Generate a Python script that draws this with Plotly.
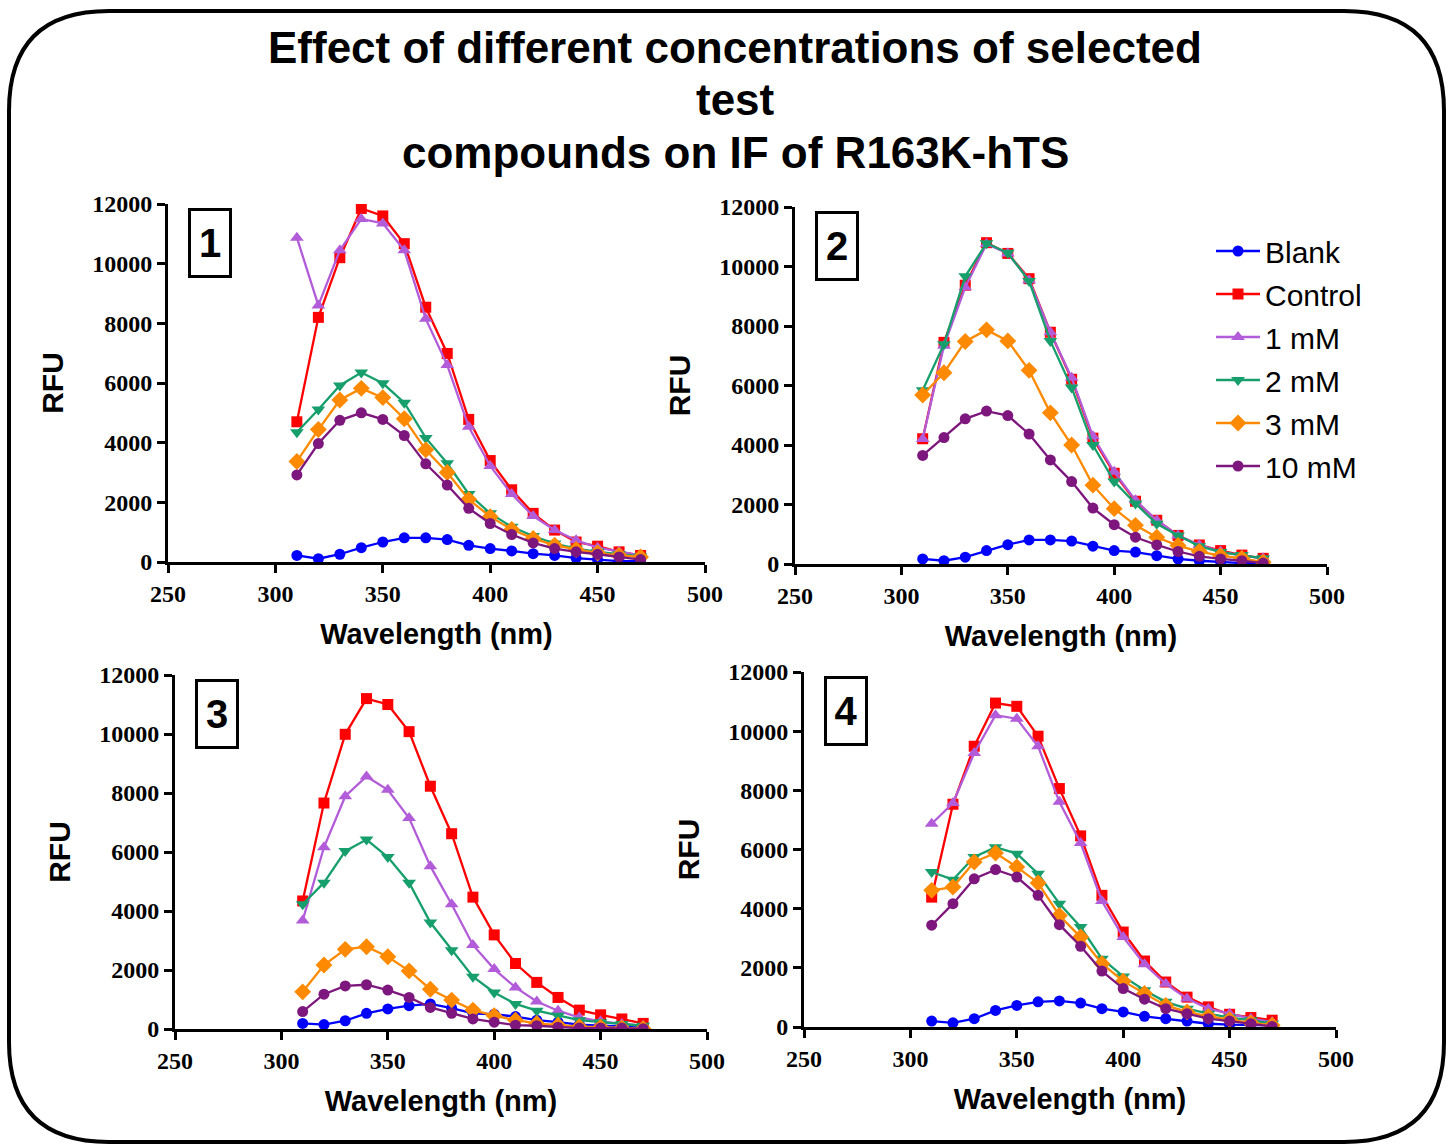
import plotly.graph_objects as go

# ---------------- data ----------------
wavelength = [310, 320, 330, 340, 350, 360, 370, 380, 390, 400, 410, 420, 430, 440, 450, 460, 470]
series_names = ["Blank", "Control", "1 mM", "2 mM", "3 mM", "10 mM"]

# Panel 1
p1_blank   = [220, 110, 260, 480, 670, 810, 810, 750, 560, 450, 370, 280, 220, 130, 80, 30, 30]
p1_control = [4700, 8200, 10200, 11850, 11600, 10670, 8540, 6990, 4780, 3400, 2420, 1630, 1070, 670, 530, 340, 220]
p1_1mM     = [10870, 8600, 10450, 11500, 11350, 10450, 8150, 6600, 4530, 3220, 2280, 1540, 1070, 730, 480, 340, 220]
p1_2mM     = [4350, 5110, 5920, 6350, 5990, 5340, 4160, 3310, 2280, 1630, 1180, 870, 620, 450, 340, 260, 190]
p1_3mM     = [3370, 4440, 5430, 5820, 5510, 4800, 3760, 3000, 2100, 1520, 1090, 790, 560, 420, 300, 220, 170]
p1_10mM    = [2920, 3970, 4750, 5000, 4780, 4240, 3290, 2580, 1800, 1290, 920, 640, 450, 340, 260, 170, 80]

# Panel 2
p2_blank   = [170, 110, 230, 450, 650, 810, 810, 770, 600, 450, 400, 280, 170, 110, 80, 30, 30]
p2_control = [4210, 7450, 9370, 10800, 10440, 9590, 7790, 6210, 4230, 3050, 2110, 1470, 960, 640, 450, 300, 190]
p2_1mM     = [4200, 7340, 9300, 10760, 10440, 9540, 7790, 6260, 4290, 3100, 2140, 1470, 960, 640, 420, 280, 190]
p2_2mM     = [5840, 7390, 9670, 10780, 10460, 9510, 7500, 5930, 4000, 2770, 2030, 1350, 960, 600, 400, 300, 190]
p2_3mM     = [5680, 6430, 7480, 7870, 7500, 6510, 5080, 4000, 2650, 1860, 1300, 900, 620, 420, 280, 190, 60]
p2_10mM    = [3650, 4250, 4880, 5140, 4990, 4370, 3500, 2770, 1880, 1320, 900, 640, 420, 260, 170, 110, 30]

# Panel 3
p3_blank   = [190, 150, 280, 530, 680, 790, 850, 710, 530, 500, 420, 300, 230, 150, 110, 80, 60]
p3_control = [4340, 7660, 9990, 11200, 11000, 10080, 8230, 6620, 4470, 3190, 2220, 1580, 1070, 640, 480, 340, 190]
p3_1mM     = [3680, 6160, 7890, 8560, 8110, 7150, 5520, 4230, 2850, 2030, 1410, 930, 620, 390, 260, 170, 110]
p3_2mM     = [4230, 4960, 6030, 6420, 5830, 4960, 3610, 2670, 1770, 1240, 850, 620, 450, 300, 230, 170, 110]
p3_3mM     = [1260, 2170, 2700, 2790, 2450, 1970, 1350, 980, 640, 450, 300, 190, 130, 80, 60, 30, 10]
p3_10mM    = [590, 1180, 1460, 1500, 1320, 1070, 730, 530, 340, 230, 130, 110, 60, 30, 30, 30, 10]

# Panel 4
p4_blank   = [200, 140, 280, 560, 730, 850, 880, 810, 620, 510, 360, 280, 200, 110, 80, 60, 60]
p4_control = [4390, 7530, 9490, 10950, 10840, 9830, 8060, 6460, 4450, 3210, 2230, 1520, 1010, 680, 430, 320, 230]
p4_1mM     = [6870, 7570, 9260, 10540, 10420, 9490, 7610, 6220, 4260, 3040, 2120, 1460, 960, 620, 450, 280, 170]
p4_2mM     = [5240, 4980, 5750, 6080, 5860, 5180, 4170, 3380, 2310, 1710, 1240, 850, 620, 450, 320, 230, 110]
p4_3mM     = [4620, 4730, 5580, 5880, 5410, 4870, 3770, 3040, 2140, 1550, 1130, 730, 510, 360, 250, 140, 60]
p4_10mM    = [3440, 4170, 5010, 5320, 5070, 4450, 3460, 2730, 1890, 1300, 940, 620, 450, 280, 200, 110, 20]

panels = [
    [p1_blank, p1_control, p1_1mM, p1_2mM, p1_3mM, p1_10mM],
    [p2_blank, p2_control, p2_1mM, p2_2mM, p2_3mM, p2_10mM],
    [p3_blank, p3_control, p3_1mM, p3_2mM, p3_3mM, p3_10mM],
    [p4_blank, p4_control, p4_1mM, p4_2mM, p4_3mM, p4_10mM],
]
panel_labels = ["1", "2", "3", "4"]
y_ticks = [0, 2000, 4000, 6000, 8000, 10000, 12000]
y_ticktext = ["0", "2000", "4000", "6000", "8000", "10000", "12000"]
x_ticks = [250, 300, 350, 400, 450, 500]

# ---------------- styling ----------------
W, H = 1453, 1145
colors = ["#0000FF", "#FF0000", "#B35CD9", "#169E6C", "#FF8A00", "#7D177D"]
symbols = ["circle", "square", "triangle-up", "triangle-down", "diamond", "circle"]
msizes = [11, 11, 12, 12, 13, 11]

# pixel boxes of plotting areas: (x0, x1, ytop, ybottom)
boxes = [
    (168, 705, 204, 562),
    (795, 1327, 207, 564),
    (175, 707, 675, 1029),
    (804, 1336, 672, 1027),
]

def px_x(v):
    return v / W

def px_y(v):
    return 1 - v / H

fig = go.Figure()

for pi, series in enumerate(panels):
    xa = "x" if pi == 0 else f"x{pi+1}"
    ya = "y" if pi == 0 else f"y{pi+1}"
    for si, vals in enumerate(series):
        fig.add_trace(go.Scatter(
            x=wavelength, y=vals, mode="lines+markers",
            name=series_names[si],
            legendgroup=series_names[si],
            showlegend=(pi == 0),
            line=dict(color=colors[si], width=2.3),
            marker=dict(symbol=symbols[si], size=msizes[si], color=colors[si]),
            xaxis=xa, yaxis=ya,
        ))

axis_common = dict(
    showgrid=False, zeroline=False, showline=True, linecolor="black", linewidth=3,
    ticks="outside", ticklen=8, tickwidth=3, tickcolor="black",
    tickfont=dict(family="Liberation Serif", size=24, color="black", weight="bold"),
)

layout = dict(
    width=W, height=H, margin=dict(l=0, r=0, t=0, b=0),
    paper_bgcolor="white", plot_bgcolor="white",
    showlegend=True,
    legend=dict(
        x=px_x(1211), y=px_y(225), xanchor="left", yanchor="top",
        font=dict(family="Liberation Sans", size=30, color="black"),
        bgcolor="rgba(0,0,0,0)", itemwidth=44, tracegroupgap=1,
    ),
)

annotations = []
for pi, (x0, x1, yt, yb) in enumerate(boxes):
    sfx = "" if pi == 0 else str(pi + 1)
    anchor_x = "y" if pi == 0 else f"y{pi+1}"
    anchor_y = "x" if pi == 0 else f"x{pi+1}"
    layout["xaxis" + sfx] = dict(
        domain=[px_x(x0), px_x(x1)], anchor=anchor_x, range=[250, 500],
        tickvals=x_ticks, automargin=False,
        title=dict(text="Wavelength (nm)", standoff=18,
                   font=dict(family="Liberation Sans", size=29, color="black", weight="bold")),
        **axis_common,
    )
    layout["yaxis" + sfx] = dict(
        domain=[px_y(yb), px_y(yt)], anchor=anchor_y, range=[0, 12000],
        tickvals=y_ticks, ticktext=y_ticktext, automargin=False,
        title=dict(text="RFU", standoff=20,
                   font=dict(family="Liberation Sans", size=30, color="black", weight="bold")),
        **axis_common,
    )
    annotations.append(dict(
        text=f"<b>{panel_labels[pi]}</b>", xref="paper", yref="paper",
        x=px_x(x0 + 42), y=px_y(yt + 39), xanchor="center", yanchor="middle",
        showarrow=False, font=dict(family="Liberation Sans", size=40, color="black"),
        bordercolor="black", borderwidth=3, borderpad=6, bgcolor="white",
        width=26, height=52,
    ))

title_lines = ["Effect of different concentrations of selected", "test", "compounds on IF of R163K-hTS"]
title_y = [47, 99, 152]
for txt, yy in zip(title_lines, title_y):
    annotations.append(dict(
        text=f"<b>{txt}</b>", xref="paper", yref="paper", x=px_x(735), y=px_y(yy),
        xanchor="center", yanchor="middle", showarrow=False,
        font=dict(family="Liberation Sans", size=44, color="black"),
    ))
layout["annotations"] = annotations

# rounded frame
L, R, T, B, r = 9, 1444, 11, 1142, 100
path = (f"M {px_x(L+r)},{px_y(T)} L {px_x(R-r)},{px_y(T)} "
        f"Q {px_x(R)},{px_y(T)} {px_x(R)},{px_y(T+r)} "
        f"L {px_x(R)},{px_y(B-r)} Q {px_x(R)},{px_y(B)} {px_x(R-r)},{px_y(B)} "
        f"L {px_x(L+r)},{px_y(B)} Q {px_x(L)},{px_y(B)} {px_x(L)},{px_y(B-r)} "
        f"L {px_x(L)},{px_y(T+r)} Q {px_x(L)},{px_y(T)} {px_x(L+r)},{px_y(T)} Z")
layout["shapes"] = [dict(type="path", xref="paper", yref="paper", path=path,
                         line=dict(color="black", width=4), layer="below")]

fig.update_layout(**layout)
fig.write_html("out.html")
